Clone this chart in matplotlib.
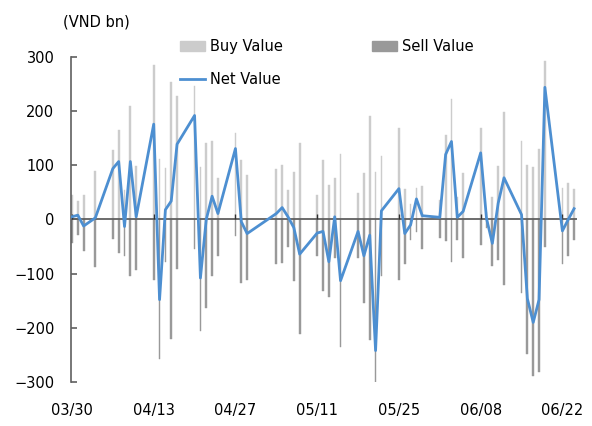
import matplotlib
matplotlib.use('Agg')
import matplotlib.pyplot as plt
import matplotlib.dates as mdates
from matplotlib.patches import Patch
from matplotlib.lines import Line2D
import pandas as pd

days = ['03/30', '03/31', '04/01', '04/03',
        '04/06', '04/07', '04/08', '04/09', '04/10',
        '04/13', '04/14', '04/15', '04/16', '04/17',
        '04/20', '04/21', '04/22', '04/23', '04/24',
        '04/27', '04/28', '04/29',
        '05/04', '05/05', '05/06', '05/07', '05/08',
        '05/11', '05/12', '05/13', '05/14', '05/15',
        '05/18', '05/19', '05/20', '05/21', '05/22',
        '05/25', '05/26', '05/27', '05/28', '05/29',
        '06/01', '06/02', '06/03', '06/04', '06/05',
        '06/08', '06/09', '06/10', '06/11', '06/12',
        '06/15', '06/16', '06/17', '06/18', '06/19',
        '06/22', '06/23', '06/24']

buy = [46, 34, 45, 90,
       129, 166, 54, 210, 99,
       285, 111, 95, 253, 228,
       246, 97, 142, 145, 76,
       160, 110, 82,
       93, 100, 55, 88, 142,
       45, 109, 63, 76, 120,
       48, 86, 191, 88, 118,
       168, 57, 28, 59, 62,
       36, 156, 222, 42, 86,
       168, 14, 41, 99, 198,
       144, 100, 96, 131, 293,
       59, 67, 56]

sell = [-43, -28, -58, -87,
        -36, -62, -68, -105, -94,
        -111, -258, -79, -221, -92,
        -55, -206, -164, -104, -67,
        -31, -118, -111,
        -83, -80, -51, -113, -211,
        -68, -132, -144, -72, -235,
        -72, -155, -222, -306, -104,
        -111, -83, -38, -23, -55,
        -34, -39, -79, -37, -72,
        -47, -15, -86, -74, -121,
        -136, -249, -289, -282, -51,
        -83, -68, -37]

net = [5, 8, -12, 3,
       94, 107, -13, 107, 5,
       176, -148, 18, 34, 139,
       192, -108, 0, 43, 11,
       131, -4, -26,
       11, 22, 5, -15, -64,
       -25, -22, -78, 5, -113,
       -22, -67, -29, -242, 16,
       57, -26, -10, 38, 7,
       4, 120, 144, 4, 15,
       123, 2, -44, 30, 77,
       9, -146, -190, -148, 244,
       -21, 0, 20]

tick_days = ['03/30', '04/13', '04/27', '05/11', '05/25', '06/08', '06/22']

dates = pd.to_datetime(['2020/' + d for d in days])
ticks = pd.to_datetime(['2020/' + d for d in tick_days])

plt.rcParams['font.family'] = 'DejaVu Sans'
plt.rcParams['font.size'] = 10.5

buy_c = '#cccccc'
sell_c = '#999999'
net_c = '#4d8fd1'
axis_c = '#606060'

fig = plt.figure(figsize=(5.92, 4.26), dpi=100)
ax = fig.add_axes([71 / 592, 1 - 382 / 426, 506 / 592, 325 / 426])

ax.bar(dates, buy, width=0.3, color=buy_c, lw=0.3, edgecolor=buy_c, zorder=1)
ax.bar(dates, sell, width=0.3, color=sell_c, lw=0.3, edgecolor=sell_c, zorder=1)
ax.axhline(0, color=axis_c, lw=1.3, zorder=2)
ax.plot(ticks, [0] * len(ticks), ls='none', marker=2, ms=3.5, mew=1,
        color='#303030', zorder=2)
ax.plot(dates, net, color=net_c, lw=2, zorder=3)

ax.set_ylim(-300, 300)
ax.set_yticks(range(-300, 301, 100))
ax.set_xlim(dates[0] - pd.Timedelta(hours=4), dates[-1] + pd.Timedelta(hours=12))
ax.set_xticks(ticks)
ax.xaxis.set_major_formatter(mdates.DateFormatter('%m/%d'))

for s in ['top', 'right', 'bottom']:
    ax.spines[s].set_visible(False)
ax.spines['left'].set_color(axis_c)
ax.spines['left'].set_linewidth(1.2)
ax.tick_params(axis='y', direction='in', length=4, width=1.2, color=axis_c, pad=12)
ax.tick_params(axis='x', length=0, pad=15)

ax.text(-0.016, 1.108, '(VND bn)', transform=ax.transAxes, ha='left', va='center')

handles = [Patch(color=buy_c), Line2D([], [], color=net_c, lw=2), Patch(color=sell_c)]
labels = ['Buy Value', 'Net Value', 'Sell Value']
fig.legend(handles, labels, ncol=2, frameon=False, loc='upper left',
           bbox_to_anchor=(180 / 592, 1 - 39 / 426), borderpad=0, borderaxespad=0,
           handlelength=1.7, handletextpad=0.35, columnspacing=6.1, labelspacing=1.25)

fig.savefig('out.png', dpi=100)
